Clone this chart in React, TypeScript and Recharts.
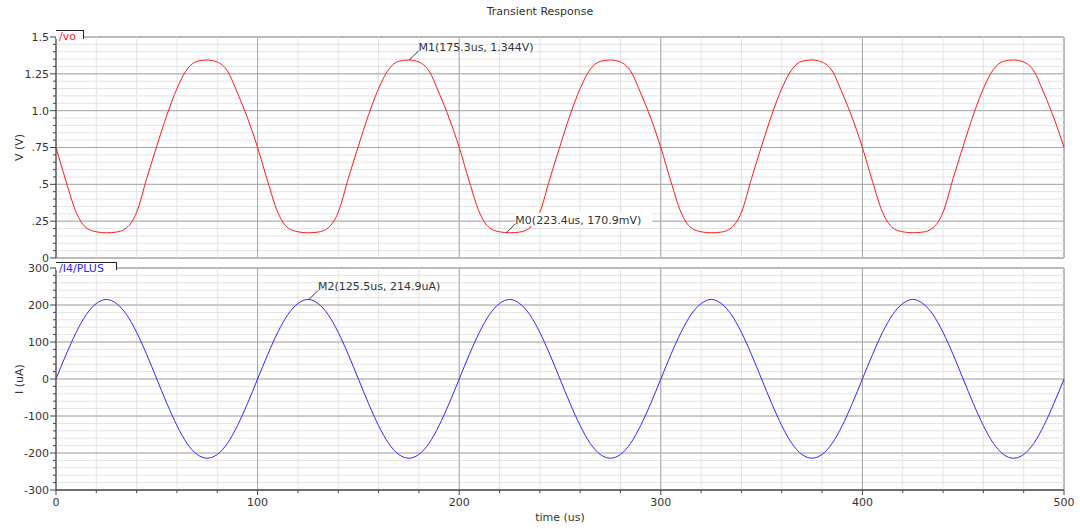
import React from 'react';
import { LineChart, Line, XAxis, YAxis, ReferenceLine, ReferenceArea, ReferenceDot } from 'recharts';

const timeUs = [
  0, 5, 10, 15, 20, 25, 30, 35, 40, 45, 50, 55, 60, 65, 70, 75, 80, 85, 90, 95,
  100, 105, 110, 115, 120, 125, 130, 135, 140, 145, 150, 155, 160, 165, 170, 175, 180, 185, 190, 195,
  200, 205, 210, 215, 220, 225, 230, 235, 240, 245, 250, 255, 260, 265, 270, 275, 280, 285, 290, 295,
  300, 305, 310, 315, 320, 325, 330, 335, 340, 345, 350, 355, 360, 365, 370, 375, 380, 385, 390, 395,
  400, 405, 410, 415, 420, 425, 430, 435, 440, 445, 450, 455, 460, 465, 470, 475, 480, 485, 490, 495,
  500,
];

const voVolts = [
  0.75, 0.52, 0.31, 0.205, 0.178, 0.171, 0.176, 0.205, 0.31, 0.54, 0.76, 0.97, 1.15, 1.28, 1.335, 1.344, 1.33, 1.27, 1.12, 0.95,
  0.75, 0.52, 0.31, 0.205, 0.178, 0.171, 0.176, 0.205, 0.31, 0.54, 0.76, 0.97, 1.15, 1.28, 1.335, 1.344, 1.33, 1.27, 1.12, 0.95,
  0.75, 0.52, 0.31, 0.205, 0.178, 0.171, 0.176, 0.205, 0.31, 0.54, 0.76, 0.97, 1.15, 1.28, 1.335, 1.344, 1.33, 1.27, 1.12, 0.95,
  0.75, 0.52, 0.31, 0.205, 0.178, 0.171, 0.176, 0.205, 0.31, 0.54, 0.76, 0.97, 1.15, 1.28, 1.335, 1.344, 1.33, 1.27, 1.12, 0.95,
  0.75, 0.52, 0.31, 0.205, 0.178, 0.171, 0.176, 0.205, 0.31, 0.54, 0.76, 0.97, 1.15, 1.28, 1.335, 1.344, 1.33, 1.27, 1.12, 0.95,
  0.75,
];

const i4PlusUa = [
  0, 66, 126, 174, 204, 215, 204, 174, 126, 66, 0, -66, -126, -174, -204, -214, -204, -174, -126, -66,
  0, 66, 126, 174, 204, 215, 204, 174, 126, 66, 0, -66, -126, -174, -204, -214, -204, -174, -126, -66,
  0, 66, 126, 174, 204, 215, 204, 174, 126, 66, 0, -66, -126, -174, -204, -214, -204, -174, -126, -66,
  0, 66, 126, 174, 204, 215, 204, 174, 126, 66, 0, -66, -126, -174, -204, -214, -204, -174, -126, -66,
  0, 66, 126, 174, 204, 215, 204, 174, 126, 66, 0, -66, -126, -174, -204, -214, -204, -174, -126, -66,
  0,
];

const xMinorTicks = [0, 20, 40, 60, 80, 100, 120, 140, 160, 180, 200, 220, 240, 260, 280, 300, 320, 340, 360, 380, 400, 420, 440, 460, 480, 500];
const xMajorTicks = [0, 100, 200, 300, 400, 500];
const xTickLabels = ['0', '100', '200', '300', '400', '500'];

const vMinorTicks = [0, 0.05, 0.1, 0.15, 0.2, 0.25, 0.3, 0.35, 0.4, 0.45, 0.5, 0.55, 0.6, 0.65, 0.7, 0.75, 0.8, 0.85, 0.9, 0.95, 1.0, 1.05, 1.1, 1.15, 1.2, 1.25, 1.3, 1.35, 1.4, 1.45, 1.5];
const vMajorTicks = [0, 0.25, 0.5, 0.75, 1.0, 1.25, 1.5];
const vTickLabels = ['0', '.25', '.5', '.75', '1.0', '1.25', '1.5'];

const iMinorTicks = [-300, -280, -260, -240, -220, -200, -180, -160, -140, -120, -100, -80, -60, -40, -20, 0, 20, 40, 60, 80, 100, 120, 140, 160, 180, 200, 220, 240, 260, 280, 300];
const iMajorTicks = [-300, -200, -100, 0, 100, 200, 300];
const iTickLabels = ['-300', '-200', '-100', '0', '100', '200', '300'];

const vMarkers = [
  { name: 'M1', t: 175.3, v: 1.344, label: 'M1(175.3us, 1.344V)', bg: false },
  { name: 'M0', t: 223.4, v: 0.1709, label: 'M0(223.4us, 170.9mV)', bg: true },
];
const iMarkers = [{ name: 'M2', t: 125.5, v: 214.9, label: 'M2(125.5us, 214.9uA)', bg: false }];

const data = timeUs.map((t, k) => ({ t, vo: voVolts[k], i: i4PlusUa[k] }));

const FONT = '"DejaVu Sans", Verdana, sans-serif';
const TXT = '#333';
const MINOR = '#e4e4e4';
const MAJOR = '#a6a6a6';
const FRAME = '#222';

const findIdx = (arr: number[], v: number) => arr.findIndex((m) => Math.abs(m - v) < 1e-6);

const makeYTick = (majors: number[], labels: string[]) => (props: any) => {
  const { x, y, payload } = props;
  const k = findIdx(majors, payload.value);
  const major = k >= 0;
  return (
    <g>
      <line x1={x} x2={x - (major ? 6 : 3)} y1={y} y2={y} stroke="#444" strokeWidth={1} />
      {major && (
        <text x={x - 7} y={y} dy="0.36em" textAnchor="end" fontFamily={FONT} fontSize={11} fill={TXT}>
          {labels[k]}
        </text>
      )}
    </g>
  );
};

const XTick = (props: any) => {
  const { x, y, payload } = props;
  const k = findIdx(xMajorTicks, payload.value);
  const major = k >= 0;
  return (
    <g>
      <line x1={x} x2={x} y1={y} y2={y + (major ? 5 : 3)} stroke="#444" strokeWidth={1} />
      {major && (
        <text x={x} y={y + 16} textAnchor="middle" fontFamily={FONT} fontSize={11} fill={TXT}>
          {xTickLabels[k]}
        </text>
      )}
    </g>
  );
};

const axisTitle = (title: string) => (props: any) => {
  const vb = props.viewBox || { x: 0, y: 0, width: 56, height: 200 };
  const cx = 19;
  const cy = vb.y + vb.height / 2;
  return (
    <text x={cx} y={cy} textAnchor="middle" dy="0.36em" transform={`rotate(-90 ${cx} ${cy})`} fontFamily={FONT} fontSize={11} fill={TXT}>
      {title}
    </text>
  );
};

const markerShape = (label: string, bg: boolean) => (props: any) => {
  const { cx, cy } = props;
  if (cx == null || cy == null) return <g />;
  return (
    <g>
      {bg && <rect x={cx + 9} y={cy - 20} width={137} height={13} fill="#fff" />}
      <line x1={cx} y1={cy} x2={cx + 9} y2={cy - 9} stroke="#333" strokeWidth={1} />
      <text x={cx + 9} y={cy - 9} fontFamily={FONT} fontSize={11} fill={TXT}>
        {label}
      </text>
    </g>
  );
};

const gridX = () => [
  ...xMinorTicks.map((t) => <ReferenceLine key={`xm${t}`} x={t} stroke={MINOR} strokeWidth={1} />),
  ...xMajorTicks.slice(1, -1).map((t) => <ReferenceLine key={`xM${t}`} x={t} stroke={MAJOR} strokeWidth={1} />),
];

export default function App() {
  return (
    <div style={{ position: 'relative', width: 1080, height: 529, background: '#fff', fontFamily: FONT }}>
      <style>{`body{margin:0;background:#fff;} svg{overflow:visible;}`}</style>
      <div style={{ position: 'absolute', left: 0, top: 5, width: 1080, textAlign: 'center', fontSize: 11, color: TXT }}>
        Transient Response
      </div>

      <div style={{ position: 'absolute', left: 0, top: 262 }}>
        <LineChart width={1080} height={267} data={data} margin={{ top: 6, right: 16, bottom: 0, left: 0 }}>
          <XAxis
            dataKey="t"
            type="number"
            domain={[0, 500]}
            ticks={xMinorTicks}
            interval={0}
            height={39}
            tickSize={0}
            tickMargin={0}
            tickLine={false}
            tick={XTick}
            axisLine={{ stroke: FRAME }}
            label={{ value: 'time (us)', position: 'insideBottom', offset: 8, fontFamily: FONT, fontSize: 11, fill: TXT }}
          />
          <YAxis
            type="number"
            domain={[-300, 300]}
            ticks={iMinorTicks}
            interval={0}
            width={56}
            tickSize={0}
            tickMargin={0}
            tickLine={false}
            tick={makeYTick(iMajorTicks, iTickLabels)}
            axisLine={{ stroke: '#444' }}
            allowDataOverflow
            label={axisTitle('I (uA)')}
          />
          {iMinorTicks.map((v) => (
            <ReferenceLine key={`im${v}`} y={v} stroke={MINOR} strokeWidth={1} />
          ))}
          {gridX()}
          {iMajorTicks.slice(1, -1).map((v) => (
            <ReferenceLine key={`iM${v}`} y={v} stroke={MAJOR} strokeWidth={1} />
          ))}
          <Line type="monotone" dataKey="i" stroke="#2a2aff" strokeWidth={1} dot={false} isAnimationActive={false} />
          <ReferenceArea x1={0} x2={500} y1={-300} y2={300} fill="none" stroke={FRAME} strokeWidth={1} fillOpacity={0} />
          {iMarkers.map((m) => (
            <ReferenceDot key={m.name} x={m.t} y={m.v} r={0} shape={markerShape(m.label, m.bg)} />
          ))}
        </LineChart>
      </div>

      <div style={{ position: 'absolute', left: 0, top: 0 }}>
        <LineChart width={1080} height={270} data={data} margin={{ top: 37, right: 16, bottom: 12, left: 0 }}>
          <XAxis dataKey="t" type="number" domain={[0, 500]} hide />
          <YAxis
            type="number"
            domain={[0, 1.5]}
            ticks={vMinorTicks}
            interval={0}
            width={56}
            tickSize={0}
            tickMargin={0}
            tickLine={false}
            tick={makeYTick(vMajorTicks, vTickLabels)}
            axisLine={{ stroke: '#444' }}
            allowDataOverflow
            label={axisTitle('V (V)')}
          />
          {vMinorTicks.map((v) => (
            <ReferenceLine key={`vm${v}`} y={v} stroke={MINOR} strokeWidth={1} />
          ))}
          {gridX()}
          {vMajorTicks.slice(1, -1).map((v) => (
            <ReferenceLine key={`vM${v}`} y={v} stroke={MAJOR} strokeWidth={1} />
          ))}
          <Line type="monotone" dataKey="vo" stroke="#ff1a1a" strokeWidth={1} dot={false} isAnimationActive={false} />
          <ReferenceArea x1={0} x2={500} y1={0} y2={1.5} fill="none" stroke={FRAME} strokeWidth={1} fillOpacity={0} />
          {vMarkers.map((m) => (
            <ReferenceDot key={m.name} x={m.t} y={m.v} r={0} shape={markerShape(m.label, m.bg)} />
          ))}
        </LineChart>
      </div>

      <div
        style={{
          position: 'absolute', left: 56, top: 30, width: 28, height: 9, background: '#fff',
          borderTop: `1px solid ${FRAME}`, borderRight: `1px solid ${FRAME}`,
          color: '#ff1a1a', fontSize: 11, lineHeight: '11px', paddingLeft: 3, boxSizing: 'border-box', overflow: 'visible', whiteSpace: 'nowrap',
        }}
      >
        /vo
      </div>
      <div
        style={{
          position: 'absolute', left: 56, top: 262, width: 61, height: 8, background: '#fff',
          borderTop: `1px solid ${FRAME}`, borderRight: `1px solid ${FRAME}`,
          color: '#2a2aff', fontSize: 11, lineHeight: '11px', paddingLeft: 3, boxSizing: 'border-box', overflow: 'visible', whiteSpace: 'nowrap',
        }}
      >
        /I4/PLUS
      </div>
    </div>
  );
}
